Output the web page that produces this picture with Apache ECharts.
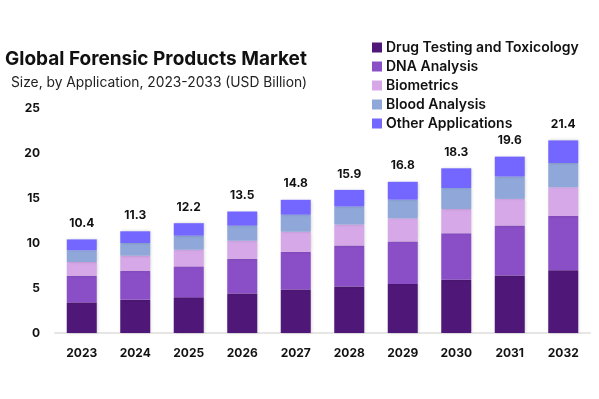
<!DOCTYPE html>
<html>
<head>
<meta charset="utf-8">
<script src="https://cdn.jsdelivr.net/npm/echarts@6/dist/echarts.min.js"></script>
<style>
  html, body { margin: 0; padding: 0; background: #fff; }
  #chart { width: 599px; height: 399px; }
</style>
</head>
<body>
<div id="chart"></div>
<script>
  // data (USD billion)
  var years = ['2023', '2024', '2025', '2026', '2027', '2028', '2029', '2030', '2031', '2032'];
  var drugTesting = [3.4, 3.7, 3.96, 4.4, 4.84, 5.16, 5.44, 5.93, 6.38, 6.97];
  var dnaAnalysis = [2.97, 3.22, 3.44, 3.85, 4.19, 4.56, 4.74, 5.15, 5.56, 6.03];
  var biometrics = [1.52, 1.67, 1.85, 2.0, 2.22, 2.33, 2.56, 2.7, 2.96, 3.19];
  var bloodAnalysis = [1.29, 1.41, 1.56, 1.67, 1.89, 2.0, 2.07, 2.33, 2.48, 2.7];
  var otherApps = [1.22, 1.3, 1.39, 1.58, 1.66, 1.85, 1.99, 2.19, 2.22, 2.51];
  var totals = [10.4, 11.3, 12.2, 13.5, 14.8, 15.9, 16.8, 18.3, 19.6, 21.4];
  var yTicks = [0, 5, 10, 15, 20, 25];

  var names = ['Drug Testing and Toxicology', 'DNA Analysis', 'Biometrics', 'Blood Analysis', 'Other Applications'];
  var colors = ['#4f1777', '#8a4ec6', '#d6a8e8', '#8fa8d9', '#7367ff'];
  var values = [drugTesting, dnaAnalysis, biometrics, bloodAnalysis, otherApps];

  var seriesList = [];
  values.forEach(function (d, i) {
    var s = {
      name: names[i],
      type: 'bar',
      stack: 'total',
      barWidth: 30,
      data: d,
      itemStyle: {
        color: colors[i],
        shadowColor: 'rgba(0,0,0,0.18)',
        shadowBlur: 3,
        shadowOffsetX: 1
      }
    };
    // totals on top of the last stacked piece
    if (i === values.length - 1) {
      s.label = {
        show: true,
        position: 'top',
        distance: 10,
        color: '#111',
        fontFamily: 'Inter',
        fontWeight: 'bold',
        fontSize: 12,
        formatter: function (p) { return totals[p.dataIndex].toFixed(1); }
      };
    }
    seriesList.push(s);
  });

  var myChart = echarts.init(document.getElementById('chart'));
  myChart.setOption({
    animation: false,
    color: colors,
    title: [
      {
        text: 'Global Forensic Products Market',
        left: 5,
        top: 50,
        padding: 0,
        textStyle: { fontFamily: 'Inter', fontWeight: 'bold', fontSize: 19, color: '#111' }
      },
      {
        text: 'Size, by Application, 2023-2033 (USD Billion)',
        left: 11,
        top: 76,
        padding: 0,
        textStyle: { fontFamily: 'Inter', fontWeight: 'normal', fontSize: 13.8, color: '#222' }
      }
    ],
    legend: {
      orient: 'vertical',
      left: 372,
      top: 40.5,
      padding: 0,
      icon: 'rect',
      itemWidth: 10,
      itemHeight: 10,
      itemGap: 5,
      textStyle: { fontFamily: 'Inter', fontWeight: 600, fontSize: 14, lineHeight: 14, color: '#111', padding: [0, 0, 0, -1] },
      data: names
    },
    grid: { left: 55, right: 9, top: 108, bottom: 66 },
    xAxis: {
      type: 'category',
      data: years,
      axisLine: { lineStyle: { color: '#e6e6e6', width: 2 } },
      axisTick: { show: false },
      axisLabel: { margin: 14, color: '#111', fontFamily: 'Inter', fontWeight: 'bold', fontSize: 12 }
    },
    yAxis: {
      type: 'value',
      min: yTicks[0],
      max: yTicks[yTicks.length - 1],
      interval: 5,
      splitLine: { show: false },
      axisLabel: { margin: 15, color: '#111', fontFamily: 'Inter', fontWeight: 'bold', fontSize: 12 }
    },
    series: seriesList
  });
</script>
</body>
</html>
